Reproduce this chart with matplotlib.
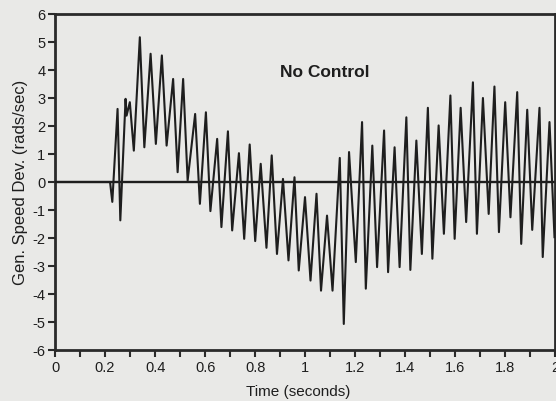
import matplotlib
matplotlib.use('Agg')
import matplotlib.pyplot as plt
from matplotlib.ticker import MultipleLocator

# peaks and troughs (time in s, speed dev in rads/sec)
time_s = [0.0, 0.22,
          0.229, 0.250, 0.261, 0.282, 0.286, 0.299, 0.315, 0.339, 0.357, 0.382,
          0.403, 0.427, 0.446, 0.472, 0.490, 0.512, 0.530, 0.560, 0.579, 0.603,
          0.621, 0.648,
          0.665, 0.691, 0.708, 0.735, 0.756, 0.778, 0.800, 0.822, 0.845, 0.866,
          0.887, 0.911, 0.933, 0.957, 0.974, 0.999, 1.021, 1.045, 1.063, 1.087,
          1.109, 1.138, 1.154, 1.175, 1.202, 1.227, 1.242,
          1.268, 1.287, 1.315, 1.331, 1.357, 1.377, 1.404, 1.420, 1.444, 1.466,
          1.490, 1.508, 1.533, 1.554, 1.580, 1.597, 1.621, 1.643, 1.670, 1.686,
          1.710, 1.733, 1.756, 1.774, 1.799, 1.820, 1.847, 1.863, 1.887, 1.907,
          1.936, 1.949, 1.976, 1.996]
speed_dev = [0.0, 0.0,
             -0.71, 2.61, -1.37, 2.97, 2.37, 2.85, 1.12, 5.17, 1.24, 4.58,
             1.36, 4.52, 1.30, 3.68, 0.35, 3.68, 0.05, 2.43, -0.78, 2.49,
             -1.04, 1.54,
             -1.61, 1.81, -1.73, 1.03, -2.03, 1.34, -2.11, 0.65, -2.35, 0.95,
             -2.57, 0.11, -2.80, 0.17, -3.16, -0.54, -3.52, -0.42, -3.88, -1.20,
             -3.88, 0.86, -5.07, 1.07, -2.86, 2.14, -3.81,
             1.30, -3.04, 1.84, -3.22, 1.24, -3.04, 2.31, -3.14, 1.48, -2.57,
             2.65, -2.74, 2.02, -1.85, 3.09, -2.03, 2.65, -1.43, 3.56, -1.85,
             3.00, -1.14, 3.41, -1.79, 2.85, -1.26, 3.21, -2.21, 2.58, -1.71,
             2.65, -2.68, 2.14, -1.97]

x_ticks = [0, 0.2, 0.4, 0.6, 0.8, 1, 1.2, 1.4, 1.6, 1.8, 2]
x_labels = ['0', '0.2', '0.4', '0.6', '0.8', '1', '1.2', '1.4', '1.6', '1.8', '2']
y_ticks = list(range(-6, 7))

plt.rcParams['font.family'] = ['Liberation Sans', 'DejaVu Sans']
plt.rcParams['axes.unicode_minus'] = False
paper = '#e9e9e7'
ink = '#1e1e1e'

fig = plt.figure(figsize=(5.56, 4.01), dpi=100, facecolor=paper)
ax = fig.add_axes([55 / 556, 1 - 350 / 401, 500.5 / 556, 336 / 401])
ax.set_facecolor(paper)

ax.axhline(0, color=ink, lw=1.7, zorder=2)
ax.plot(time_s, speed_dev, color=ink, lw=1.5, zorder=3)

ax.set_xlim(0, 2)
ax.set_ylim(-6, 6)
ax.set_xticks(x_ticks)
ax.set_xticklabels(x_labels)
ax.xaxis.set_minor_locator(MultipleLocator(0.1))
ax.set_yticks(y_ticks)

for s in ax.spines.values():
    s.set_linewidth(2)
    s.set_color('#2a2a2a')

ax.tick_params(axis='both', which='both', direction='out', color='#2a2a2a',
               width=1.5, labelsize=10.5, labelcolor=ink)
ax.tick_params(axis='x', which='both', length=5, pad=3)
ax.tick_params(axis='y', length=5, pad=2)

ax.text(1.078, 3.9, 'No Control', ha='center', va='center',
        fontsize=12.5, fontweight='bold', color=ink)
ax.set_xlabel('Time (seconds)', fontsize=11, color=ink, labelpad=6)
ax.xaxis.set_label_coords(0.485, -0.105)
ax.set_ylabel('Gen. Speed Dev. (rads/sec)', fontsize=12, color=ink, labelpad=3)

fig.savefig('out.png', dpi=100, facecolor=paper)
